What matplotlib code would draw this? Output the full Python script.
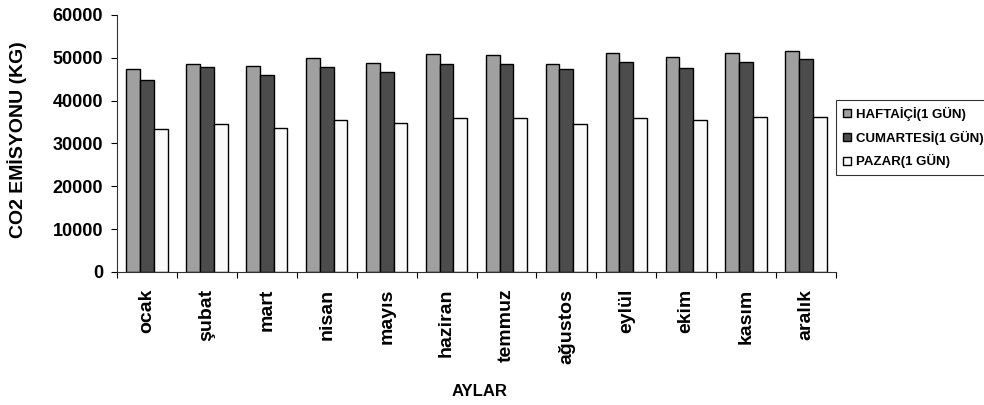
"""
Aylara gore gunluk CO2 emisyonu (hafta ici, cumartesi, pazar).
"""

import numpy as np
import matplotlib.pyplot as plt
from matplotlib.ticker import FixedLocator

plt.rcParams['font.family'] = ['Liberation Sans', 'DejaVu Sans']
plt.rcParams['font.weight'] = 'bold'

AYLAR = ["ocak", "şubat", "mart", "nisan", "mayıs", "haziran",
         "temmuz", "ağustos", "eylül", "ekim", "kasım", "aralık"]

HAFTAICI = [47300, 48500, 48200, 50000, 48800, 50900,
            50600, 48500, 51200, 50200, 51200, 51500]
CUMARTESI = [44900, 47900, 46100, 47900, 46700, 48500,
             48500, 47300, 49100, 47600, 49100, 49700]
PAZAR = [33400, 34500, 33700, 35400, 34800, 35900,
         35900, 34500, 35900, 35400, 36300, 36300]

SERIES = [
    ("HAFTAİÇİ(1 GÜN)", HAFTAICI, '#A0A0A0'),
    ("CUMARTESİ(1 GÜN)", CUMARTESI, '#4C4C4C'),
    ("PAZAR(1 GÜN)", PAZAR, '#FAFAFA'),
]


def main():
    fig = plt.figure(figsize=(9.84, 4.05), dpi=100)
    ax = fig.add_axes([0.1189, 0.3284, 0.7307, 0.6346])

    x = np.arange(len(AYLAR))
    width = 0.23
    for k, (label, values, color) in enumerate(SERIES):
        ax.bar(x + (k - 1) * width, values, width=width, color=color,
               edgecolor='black', linewidth=1.0, label=label)

    ax.set_xlim(-0.5, len(AYLAR) - 0.5)
    ax.set_ylim(0, 60000)
    ax.set_yticks(range(0, 60001, 10000))
    ax.tick_params(axis='y', direction='out', length=4, width=0.8,
                   labelsize=13, pad=6)

    # etiketler kategori ortasinda, tik cizgileri kategori sinirlarinda
    ax.set_xticks(x)
    ax.set_xticklabels(AYLAR, rotation=90, fontsize=14, fontweight='bold')
    ax.tick_params(axis='x', which='major', length=0, pad=12)
    ax.xaxis.set_minor_locator(FixedLocator(np.arange(-0.5, len(AYLAR), 1)))
    ax.tick_params(axis='x', which='minor', direction='out', length=4, width=0.8)

    for lbl in ax.get_yticklabels():
        lbl.set_fontweight('bold')

    ax.spines['top'].set_visible(False)
    ax.spines['right'].set_visible(False)
    ax.spines['left'].set_color('#333333')
    ax.spines['bottom'].set_color('#333333')

    fig.text(17 / 984, 1 - 140 / 405, 'CO2 EMİSYONU (KG)', rotation=90,
             ha='center', va='center', fontsize=14, fontweight='bold')
    fig.text(480 / 984, 1 - 391 / 405, 'AYLAR', ha='center', va='center',
             fontsize=12, fontweight='bold')

    leg = ax.legend(loc='upper left', bbox_to_anchor=(0.8496, 0.753),
                    bbox_transform=fig.transFigure, fontsize=9.5,
                    frameon=True, fancybox=False, borderpad=0.5,
                    handlelength=0.6, handleheight=0.6, handletextpad=0.4,
                    labelspacing=0.75, borderaxespad=0)
    leg.get_frame().set_edgecolor('black')
    leg.get_frame().set_linewidth(0.8)
    for t in leg.get_texts():
        t.set_fontweight('bold')

    fig.savefig('out.png', dpi=100)
    plt.close(fig)


if __name__ == "__main__":
    main()
